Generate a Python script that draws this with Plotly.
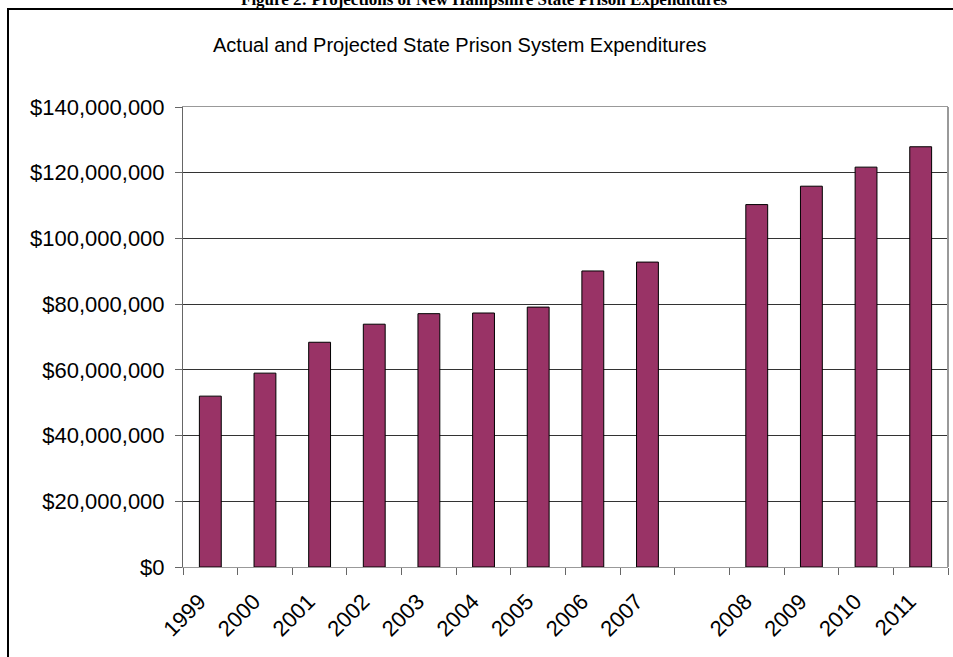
import plotly.graph_objects as go

# Data
years = ["1999", "2000", "2001", "2002", "2003", "2004", "2005", "2006", "2007",
         " ", "2008", "2009", "2010", "2011"]
expenditures = [52.0e6, 59.0e6, 68.4e6, 73.9e6, 77.1e6, 77.3e6, 79.1e6, 90.1e6, 92.8e6,
                None, 110.3e6, 115.9e6, 121.7e6, 127.9e6]
y_ticks = [0, 20e6, 40e6, 60e6, 80e6, 100e6, 120e6, 140e6]

W, H = 953, 657
L, R, T, B = 183, 5, 107, 90
PW, PH = W - L - R, H - T - B

def px_x(px):
    return (px - L) / PW

def px_y(py):
    return (H - B - py) / PH

fig = go.Figure()
fig.add_trace(go.Bar(
    x=years, y=expenditures,
    marker=dict(color="#993366", line=dict(color="#000000", width=1)),
    hoverinfo="x+y",
))

fig.update_layout(
    width=W, height=H,
    margin=dict(l=L, r=R, t=T, b=B),
    paper_bgcolor="white", plot_bgcolor="white",
    bargap=0.6,
    showlegend=False,
    font=dict(family="Liberation Sans, Arial, sans-serif", size=22, color="#000000"),
)

fig.update_xaxes(
    type="category",
    tickson="boundaries",
    ticks="outside", ticklen=7, tickcolor="#666666", tickwidth=1,
    showgrid=False,
    showline=True, linecolor="#999999", linewidth=1, mirror=True,
    tickangle=-45,
    ticklabelshift=-11,
    ticklabelstandoff=12,
    tickfont=dict(size=22),
)
fig.update_yaxes(
    range=[0, 140e6],
    tickvals=y_ticks,
    tickformat="$,.0f",
    ticks="outside", ticklen=7, tickcolor="#666666", tickwidth=1,
    showgrid=True, gridcolor="#333333", gridwidth=1,
    showline=True, linecolor="#666666", linewidth=1,
    zeroline=False,
    ticklabelstandoff=6,
    tickfont=dict(size=22),
)

# right border of the plot area (grey)
fig.add_shape(type="line", xref="paper", yref="paper",
              x0=1, x1=1, y0=0, y1=1, line=dict(color="#999999", width=2))

# outer black frame of the chart
fig.add_shape(type="rect", xref="paper", yref="paper",
              x0=px_x(8), x1=px_x(970), y0=px_y(680), y1=px_y(9),
              line=dict(color="#000000", width=2), fillcolor="rgba(0,0,0,0)")

# chart title inside the frame
fig.add_annotation(
    text="Actual and Projected State Prison System Expenditures",
    xref="paper", yref="paper", x=px_x(460), y=px_y(45),
    xanchor="center", yanchor="middle", showarrow=False,
    font=dict(family="Liberation Sans, Arial, sans-serif", size=20, color="#000000"),
)

# document figure caption, cut off at the top of the picture
fig.add_annotation(
    text="<b>Figure 2: Projections of New Hampshire State Prison Expenditures</b>",
    xref="paper", yref="paper", x=px_x(484), y=px_y(11),
    xanchor="center", yanchor="bottom", showarrow=False,
    font=dict(family="Liberation Serif, Times New Roman, serif", size=17, color="#000000"),
)

fig.write_html("out.html", config={"displayModeBar": False},
               post_script="document.body.style.margin='0';")
